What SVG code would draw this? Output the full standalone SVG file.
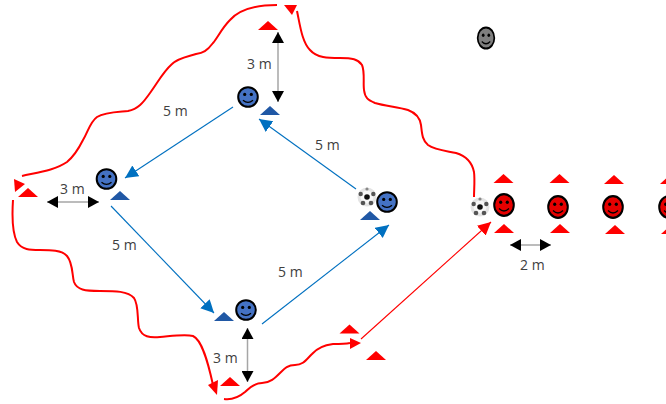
<svg xmlns="http://www.w3.org/2000/svg" width="666" height="404" viewBox="0 0 666 404">
<style>
.lbl{font-family:"Open Sans","Noto Sans",sans-serif;font-size:14px;fill:#404040}
.wavy{fill:none;stroke:#ff0000;stroke-width:2}
.blue{fill:none;stroke:#0070c0;stroke-width:1.1;marker-end:url(#hb)}
.red{fill:none;stroke:#ff0000;stroke-width:1.1;marker-end:url(#hr)}
.dim{fill:none;stroke:#a6a6a6;stroke-width:1.5;marker-start:url(#hk);marker-end:url(#hk)}
.conr{fill:#ff0000}
.conb{fill:#2058a5}
.head{fill:#ff0000}
.fb{fill:#4472c4}.fr{fill:#e60000}.fg{fill:#7f7f7f}
</style>
<defs>
<marker id="hb" markerUnits="userSpaceOnUse" markerWidth="14" markerHeight="14" refX="13" refY="6.5" orient="auto"><path d="M0,0L13,6.500L0,13Z" fill="#0070c0"/></marker>
<marker id="hr" markerUnits="userSpaceOnUse" markerWidth="14" markerHeight="14" refX="13" refY="6.5" orient="auto"><path d="M0,0L13,6.500L0,13Z" fill="#ff0000"/></marker>
<marker id="hk" markerUnits="userSpaceOnUse" markerWidth="12" markerHeight="12" refX="11" refY="6" orient="auto-start-reverse"><path d="M0,0L11,6L0,12Z" fill="#000"/></marker>
<filter id="soft" x="-30%" y="-30%" width="160%" height="160%"><feGaussianBlur stdDeviation="0.7"/></filter>
<g id="face">
<circle r="9.800" stroke="#000" stroke-width="2"/>
<circle cx="-3.300" cy="-2.600" r="1.600" fill="#000"/>
<circle cx="3.300" cy="-2.600" r="1.600" fill="#000"/>
<path d="M-5,3.200Q0,7.600 5,3.200" fill="none" stroke="#000" stroke-width="1.300"/>
</g>
<g id="ball" filter="url(#soft)">
<circle r="9.500" fill="#e4e4e4"/>
<circle r="6.500" fill="#f7f7f7"/>
<circle r="2.800" fill="#111"/>
<circle cx="-6.300" cy="-3" r="2.200" fill="#555"/>
<circle cx="6.300" cy="-3" r="2.200" fill="#555"/>
<circle cx="-4" cy="6" r="2.300" fill="#555"/>
<circle cx="4" cy="6" r="2.300" fill="#555"/>
<circle cx="0" cy="-8" r="1.600" fill="#888"/>
</g>
<path id="cone" d="M-10,4.500L0,-4.500L10,4.500Z"/>
</defs>

<g id="connectors">
<path class="wavy" d="M277,5C258,5 240,9 230,20C222,28 218,37 213,43C207,51 203,53 196,54C186,57 178,58 172,64C163,72 158,82 150,93C143,103 138,109 128,111C118,112 105,112 97,117C90,122 88,132 83,140C78,150 73,157 67,162C55,170 40,172 22,176"/>
<polygon class="head" points="14,179 25,184 15,192"/>
<path class="wavy" d="M297,11C300,25 302,42 310,50C317,58 328,58 340,58C352,58 358,59 362,65C365,72 363,82 364,90C365,98 368,100 375,103C385,106 398,107 408,110C416,113 420,118 421,125C422,133 422,140 428,145C435,150 447,151 456,153C466,156 472,162 474,172C475,180 474,190 474,197"/>
<polygon class="head" points="284,5 297,5 292,15"/>
<path class="wavy" d="M13,200C12,215 12,232 17,242C22,250 30,250 40,250C50,250 62,250 67,256C73,263 72,275 74,282C77,290 85,291 100,291C115,291 128,291 134,298C139,305 137,320 139,328C142,337 150,338 160,337C172,336 185,334 193,336C202,340 208,362 213,385"/>
<polygon class="head" points="208,385 218,380 217,395"/>
<path class="wavy" d="M224,399C232,400 238,398 245,392C250,387 255,383 262,383C270,383 275,378 280,373C285,368 288,365 295,365C303,365 306,360 312,354C318,347 325,345 333,344C340,344 345,344 350,343"/>
<polygon class="head" points="350,338 361,343 350,349"/>
<line class="red" x1="361" y1="339" x2="491" y2="222"/>
<line class="blue" x1="233" y1="107" x2="125" y2="178"/>
<line class="blue" x1="356" y1="189" x2="259" y2="119"/>
<line class="blue" x1="111" y1="206" x2="214" y2="313"/>
<line class="blue" x1="262" y1="324" x2="389" y2="225"/>
<line class="dim" x1="278" y1="32" x2="278" y2="102"/>
<line class="dim" x1="47" y1="202" x2="99" y2="202"/>
<line class="dim" x1="247.500" y1="328" x2="247.500" y2="382"/>
<line class="dim" x1="510" y1="245" x2="551" y2="245"/>
</g>

<g id="player-top"><use href="#face" class="fb" x="248" y="97"/><use href="#cone" class="conb" x="270" y="110.500"/></g>
<g id="player-left"><use href="#face" class="fb" x="106.500" y="179"/><use href="#cone" class="conb" x="120" y="195.500"/></g>
<g id="player-bottom"><use href="#face" class="fb" x="246" y="310"/><use href="#cone" class="conb" x="224" y="316.500"/></g>
<g id="player-right"><use href="#ball" x="367" y="197"/><use href="#face" class="fb" x="387" y="202"/><use href="#cone" class="conb" x="370" y="215.500"/></g>
<g id="player-gray"><use href="#face" class="fg" transform="translate(486 38) scale(.85 1.07)"/></g>
<g id="player-red-1"><use href="#ball" x="480" y="207"/><use href="#face" class="fr" transform="translate(504 205) scale(1 1.1)"/></g>
<g id="player-red-2"><use href="#face" class="fr" transform="translate(558 207) scale(1 1.1)"/></g>
<g id="player-red-3"><use href="#face" class="fr" transform="translate(613 207) scale(1 1.1)"/></g>
<g id="player-red-4"><use href="#face" class="fr" transform="translate(669 207) scale(1 1.1)"/></g>

<g id="cones-red">
<use href="#cone" class="conr" x="268" y="25.500"/>
<use href="#cone" class="conr" x="28" y="192.500"/>
<use href="#cone" class="conr" x="230" y="381.500"/>
<use href="#cone" class="conr" x="349.500" y="329"/>
<use href="#cone" class="conr" x="376" y="355.500"/>
<use href="#cone" class="conr" x="503.500" y="178.500"/>
<use href="#cone" class="conr" x="559.500" y="178.500"/>
<use href="#cone" class="conr" x="614" y="179.500"/>
<use href="#cone" class="conr" x="670" y="179.500"/>
<use href="#cone" class="conr" x="504" y="228.500"/>
<use href="#cone" class="conr" x="560" y="228.500"/>
<use href="#cone" class="conr" x="615" y="229.500"/>
<use href="#cone" class="conr" x="671" y="229.500"/>
</g>

<g id="labels">
<text class="lbl" x="247" y="69">3 m</text>
<text class="lbl" x="163" y="116">5 m</text>
<text class="lbl" x="315" y="150">5 m</text>
<text class="lbl" x="60" y="194">3 m</text>
<text class="lbl" x="112" y="250">5 m</text>
<text class="lbl" x="278" y="277">5 m</text>
<text class="lbl" x="213" y="363">3 m</text>
<text class="lbl" x="520" y="270">2 m</text>
</g>
</svg>
